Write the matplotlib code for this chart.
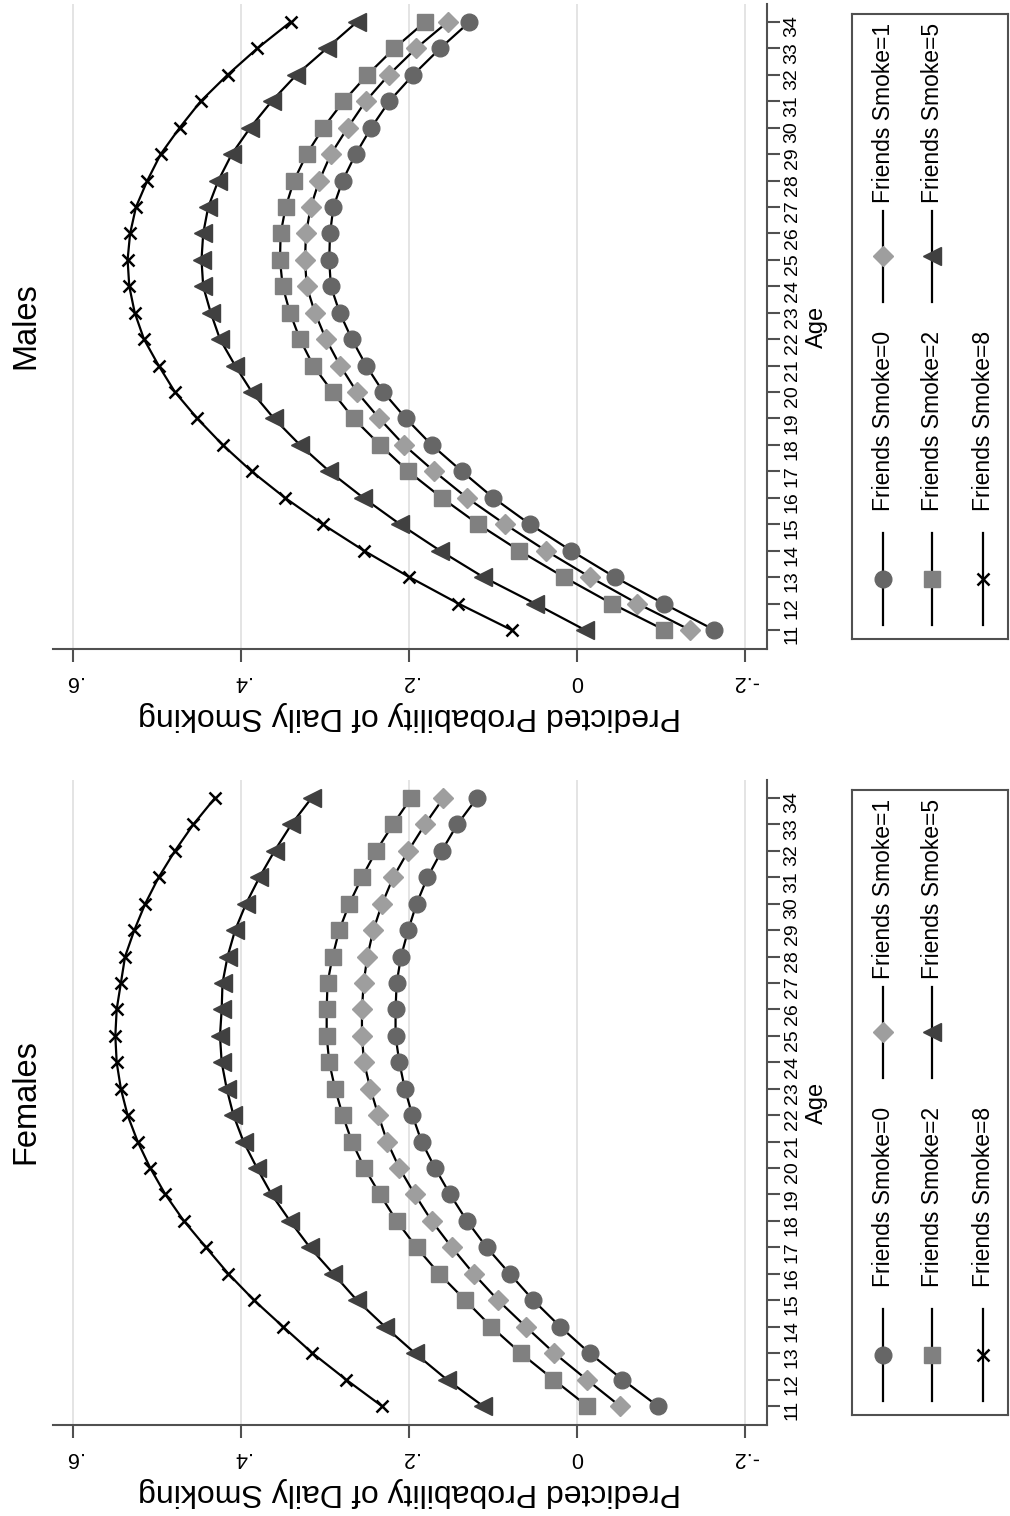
import matplotlib
matplotlib.use('Agg')
import matplotlib.pyplot as plt

plt.rcParams['font.family'] = ['Liberation Sans', 'DejaVu Sans']

AGES = list(range(11, 35))
AGE_TICKS = list(range(11, 35))
PROB_TICKS = [0.6, 0.4, 0.2, 0.0, -0.2]
PROB_LABELS = ['.6', '.4', '.2', '0', '-.2']
SERIES_NAMES = ['Friends Smoke=0', 'Friends Smoke=1', 'Friends Smoke=2',
                'Friends Smoke=5', 'Friends Smoke=8']

FEMALE_SMOKE0 = [-0.096, -0.054, -0.015, 0.020, 0.052, 0.080, 0.1075, 0.131, 0.151, 0.169, 0.185, 0.196,
                 0.205, 0.2115, 0.216, 0.216, 0.2147, 0.2095, 0.201, 0.191, 0.178, 0.161, 0.1425, 0.119]
FEMALE_SMOKE1 = [-0.051, -0.0115, 0.027, 0.061, 0.094, 0.123, 0.149, 0.173, 0.193, 0.2115, 0.226, 0.2365,
                 0.246, 0.2536, 0.256, 0.256, 0.254, 0.2496, 0.2425, 0.232, 0.2187, 0.2008, 0.181, 0.159]
FEMALE_SMOKE2 = [-0.012, 0.028, 0.067, 0.102, 0.133, 0.164, 0.191, 0.2147, 0.2345, 0.253, 0.268, 0.279,
                 0.288, 0.295, 0.298, 0.298, 0.297, 0.291, 0.283, 0.271, 0.256, 0.239, 0.219, 0.1976]
FEMALE_SMOKE5 = [0.112, 0.155, 0.193, 0.2286, 0.262, 0.290, 0.318, 0.3417, 0.3635, 0.381, 0.397, 0.409,
                 0.417, 0.423, 0.425, 0.423, 0.422, 0.416, 0.407, 0.394, 0.378, 0.360, 0.340, 0.316]
FEMALE_SMOKE8 = [0.2325, 0.275, 0.315, 0.350, 0.3845, 0.415, 0.4417, 0.468, 0.490, 0.508, 0.523, 0.535,
                 0.543, 0.548, 0.5496, 0.548, 0.543, 0.538, 0.527, 0.514, 0.498, 0.4786, 0.4567, 0.431]

MALE_SMOKE0 = [-0.1635, -0.103, -0.045, 0.007, 0.056, 0.0996, 0.137, 0.173, 0.2036, 0.2306, 0.251, 0.268,
               0.2825, 0.293, 0.295, 0.294, 0.290, 0.279, 0.2635, 0.245, 0.2235, 0.195, 0.163, 0.128]
MALE_SMOKE1 = [-0.1345, -0.072, -0.0155, 0.037, 0.0857, 0.131, 0.170, 0.206, 0.2353, 0.262, 0.282, 0.2988,
               0.312, 0.3218, 0.3238, 0.3226, 0.317, 0.3068, 0.293, 0.273, 0.2516, 0.224, 0.1917, 0.154]
MALE_SMOKE2 = [-0.104, -0.0413, 0.0155, 0.0687, 0.1175, 0.161, 0.2008, 0.2345, 0.266, 0.291, 0.314, 0.3298,
               0.3417, 0.3504, 0.3536, 0.3528, 0.3468, 0.3369, 0.3218, 0.302, 0.278, 0.2496, 0.2175, 0.181]
MALE_SMOKE5 = [-0.0095, 0.050, 0.1115, 0.163, 0.2107, 0.2544, 0.2948, 0.3298, 0.3607, 0.387, 0.407, 0.425,
               0.436, 0.445, 0.447, 0.445, 0.439, 0.427, 0.411, 0.389, 0.3635, 0.334, 0.298, 0.262]
MALE_SMOKE8 = [0.0778, 0.1413, 0.1996, 0.2536, 0.3028, 0.3476, 0.3873, 0.4218, 0.452, 0.4786, 0.498, 0.5155,
               0.5265, 0.533, 0.535, 0.532, 0.525, 0.5115, 0.4956, 0.473, 0.448, 0.416, 0.3806, 0.341]

# marker styles (figure is drawn turned a quarter turn, so Stata's up-triangle points left)
STYLES = [
    dict(marker='o', markersize=12, color='#666666'),
    dict(marker='D', markersize=10.5, color='#9e9e9e'),
    dict(marker='s', markersize=11.5, color='#808080'),
    dict(marker='<', markersize=13.5, color='#404040'),
    dict(marker='x', markersize=8.5, color='black', mew=1.8),
]

W, H = 1010, 1516
LINE_W = 1.6
AXIS_COLOR = '#505050'


def px_rect(left, top, right, bottom):
    return [left / W, (H - bottom) / H, (right - left) / W, (bottom - top) / H]


def panel(fig, rect, series, title, title_y, leg_rect):
    ax = fig.add_axes(rect)
    for vals, st in zip(series, STYLES):
        st = dict(st)
        col = st.pop('color')
        ax.plot(vals, AGES, color='black', lw=LINE_W, mfc=col, mec=col, **st)

    ax.set_xlim(0.6238, -0.2262)
    ax.set_ylim(10.28, 34.68)
    ax.set_xticks(PROB_TICKS)
    ax.set_xticklabels(PROB_LABELS)
    ax.set_yticks(AGE_TICKS)
    ax.yaxis.tick_right()
    ax.yaxis.set_label_position('right')
    ax.spines['top'].set_visible(False)
    ax.spines['left'].set_visible(False)
    for s in ('bottom', 'right'):
        ax.spines[s].set_color(AXIS_COLOR)
        ax.spines[s].set_linewidth(1.5)
    ax.tick_params(axis='x', direction='out', length=9, width=1.5, color=AXIS_COLOR,
                   labelsize=15.5, labelrotation=180, pad=7)
    ax.tick_params(axis='y', direction='out', length=9, width=1.5, color=AXIS_COLOR,
                   labelsize=14, labelrotation=90, pad=3, left=False, right=True)
    for lbl in ax.get_yticklabels():
        lbl.set_fontfamily(['Liberation Sans Narrow', 'Liberation Sans'])
    ax.grid(axis='x', color='#e4e4e4', lw=1.4)
    ax.set_axisbelow(True)

    ax.set_xlabel('Predicted Probability of Daily Smoking', fontsize=23, rotation=180, labelpad=6)
    ax.set_ylabel('Age', fontsize=17, rotation=90, labelpad=4)

    fig.text(26 / W, title_y, title, rotation=90, ha='center', va='center', fontsize=23.5)

    # legend box drawn as a small axes with turned text
    leg = fig.add_axes(leg_rect)
    leg.set_xlim(0, 1)
    leg.set_ylim(0, 1)
    leg.set_xticks([])
    leg.set_yticks([])
    for s in leg.spines.values():
        s.set_color(AXIS_COLOR)
        s.set_linewidth(1.5)
    rows = [0.199, 0.513, 0.84]
    cols = [(0.0224, 0.1696, 0.096, 0.205), (0.539, 0.685, 0.613, 0.698)]
    for i, (name, st) in enumerate(zip(SERIES_NAMES, STYLES)):
        xr = rows[i // 2]
        y0, y1, ym, yt = cols[i % 2]
        st = dict(st)
        col = st.pop('color')
        leg.plot([xr, xr], [y0, y1], color='black', lw=LINE_W)
        leg.plot([xr], [ym], ls='none', mfc=col, mec=col, **st)
        leg.text(xr, yt, name, rotation=90, rotation_mode='anchor', ha='left', va='center',
                 fontsize=16.5)
    return ax


fig = plt.figure(figsize=(W / 100, H / 100), dpi=100)

panel(fig, px_rect(53, 780, 767, 1425),
      [FEMALE_SMOKE0, FEMALE_SMOKE1, FEMALE_SMOKE2, FEMALE_SMOKE5, FEMALE_SMOKE8],
      'Females', (H - 1102) / H, px_rect(852, 790, 1008, 1415))
panel(fig, px_rect(53, 4, 767, 649),
      [MALE_SMOKE0, MALE_SMOKE1, MALE_SMOKE2, MALE_SMOKE5, MALE_SMOKE8],
      'Males', (H - 326) / H, px_rect(852, 14, 1008, 639))

fig.savefig('out.png', dpi=100)
